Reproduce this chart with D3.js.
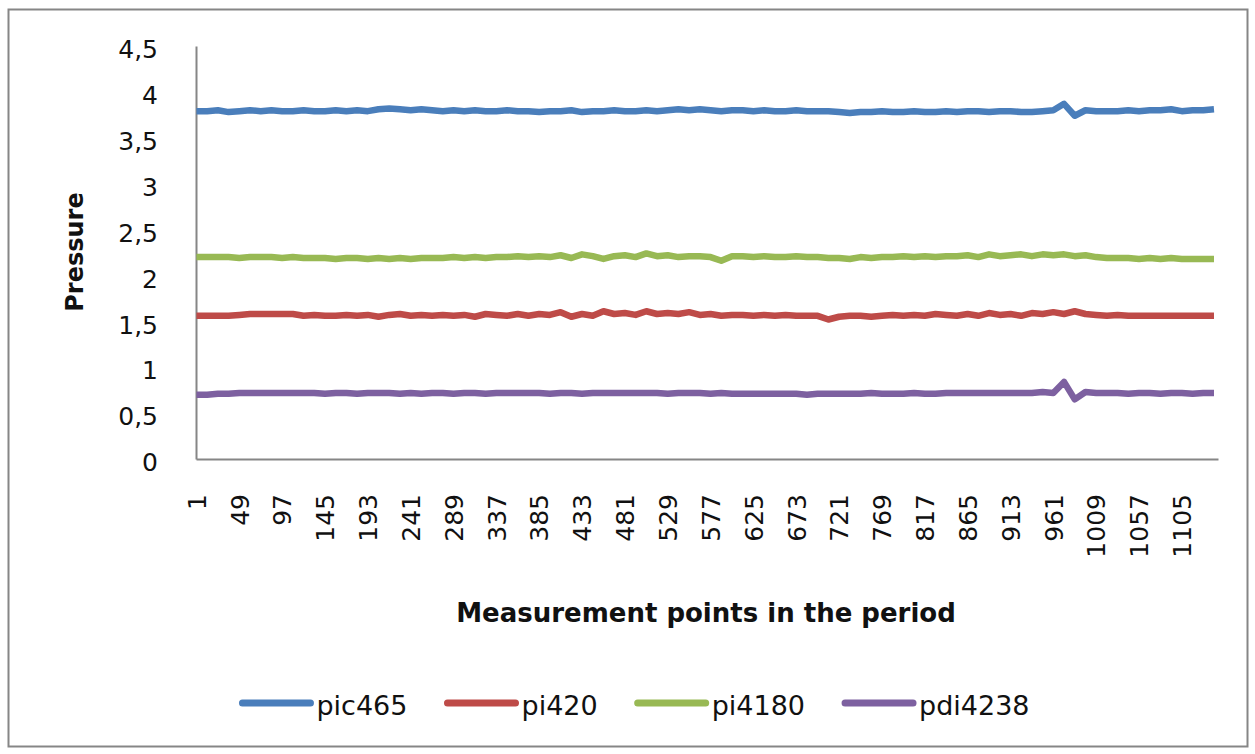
<!DOCTYPE html>
<html>
<head>
<meta charset="utf-8">
<script src="https://cdn.jsdelivr.net/npm/d3@7"></script>
<style>
    body { margin: 0; background: #fff; }
    text { font-family: "DejaVu Sans", sans-serif; fill: #111; }
</style>
</head>
<body>
<svg id="chart" width="1255" height="754"></svg>
<script>
// number of measurement points on the category axis, one sample kept every 12 points
var pointCount = 1145;
var sampleStep = 12;

var seriesNames = ['pic465', 'pi420', 'pi4180', 'pdi4238'];
var seriesColors = ['#4a7ebb', '#be4b48', '#98b954', '#7d60a0'];

var yTicks = [0, 0.5, 1, 1.5, 2, 2.5, 3, 3.5, 4, 4.5];
var xTickLabels = [1, 49, 97, 145, 193, 241, 289, 337, 385, 433, 481, 529, 577, 625,
    673, 721, 769, 817, 865, 913, 961, 1009, 1057, 1105];

var pic465 = [
    3.79, 3.79, 3.80, 3.78, 3.79, 3.80, 3.79, 3.80, 3.79, 3.79,
    3.80, 3.79, 3.79, 3.80, 3.79, 3.80, 3.79, 3.81, 3.82, 3.81,
    3.80, 3.81, 3.80, 3.79, 3.80, 3.79, 3.80, 3.79, 3.79, 3.80,
    3.79, 3.79, 3.78, 3.79, 3.79, 3.80, 3.78, 3.79, 3.79, 3.80,
    3.79, 3.79, 3.80, 3.79, 3.80, 3.81, 3.80, 3.81, 3.80, 3.79,
    3.80, 3.80, 3.79, 3.80, 3.79, 3.79, 3.80, 3.79, 3.79, 3.79,
    3.78, 3.77, 3.78, 3.78, 3.79, 3.78, 3.78, 3.79, 3.78, 3.78,
    3.79, 3.78, 3.79, 3.79, 3.78, 3.79, 3.79, 3.78, 3.78, 3.79,
    3.80, 3.87, 3.74, 3.80, 3.79, 3.79, 3.79, 3.80, 3.79, 3.80,
    3.80, 3.81, 3.79, 3.80, 3.80, 3.81
];
var pi420 = [
    1.56, 1.56, 1.56, 1.56, 1.57, 1.58, 1.58, 1.58, 1.58, 1.58,
    1.56, 1.57, 1.56, 1.56, 1.57, 1.56, 1.57, 1.55, 1.57, 1.58,
    1.56, 1.57, 1.56, 1.57, 1.56, 1.57, 1.55, 1.58, 1.57, 1.56,
    1.58, 1.56, 1.58, 1.57, 1.60, 1.55, 1.58, 1.56, 1.61, 1.58,
    1.59, 1.57, 1.61, 1.58, 1.59, 1.58, 1.60, 1.57, 1.58, 1.56,
    1.57, 1.57, 1.56, 1.57, 1.56, 1.57, 1.56, 1.56, 1.56, 1.52,
    1.55, 1.56, 1.56, 1.55, 1.56, 1.57, 1.56, 1.57, 1.56, 1.58,
    1.57, 1.56, 1.58, 1.56, 1.59, 1.57, 1.58, 1.56, 1.59, 1.58,
    1.60, 1.58, 1.61, 1.58, 1.57, 1.56, 1.57, 1.56, 1.56, 1.56,
    1.56, 1.56, 1.56, 1.56, 1.56, 1.56
];
var pi4180 = [
    2.20, 2.20, 2.20, 2.20, 2.19, 2.20, 2.20, 2.20, 2.19, 2.20,
    2.19, 2.19, 2.19, 2.18, 2.19, 2.19, 2.18, 2.19, 2.18, 2.19,
    2.18, 2.19, 2.19, 2.19, 2.20, 2.19, 2.20, 2.19, 2.20, 2.20,
    2.21, 2.20, 2.21, 2.20, 2.22, 2.19, 2.23, 2.21, 2.18, 2.21,
    2.22, 2.20, 2.24, 2.21, 2.22, 2.20, 2.21, 2.21, 2.20, 2.16,
    2.21, 2.21, 2.20, 2.21, 2.20, 2.20, 2.21, 2.20, 2.20, 2.19,
    2.19, 2.18, 2.20, 2.19, 2.20, 2.20, 2.21, 2.20, 2.21, 2.20,
    2.21, 2.21, 2.22, 2.20, 2.23, 2.21, 2.22, 2.23, 2.21, 2.23,
    2.22, 2.23, 2.21, 2.22, 2.20, 2.19, 2.19, 2.19, 2.18, 2.19,
    2.18, 2.19, 2.18, 2.18, 2.18, 2.18
];
var pdi4238 = [
    0.70, 0.70, 0.71, 0.71, 0.72, 0.72, 0.72, 0.72, 0.72, 0.72,
    0.72, 0.72, 0.71, 0.72, 0.72, 0.71, 0.72, 0.72, 0.72, 0.71,
    0.72, 0.71, 0.72, 0.72, 0.71, 0.72, 0.72, 0.71, 0.72, 0.72,
    0.72, 0.72, 0.72, 0.71, 0.72, 0.72, 0.71, 0.72, 0.72, 0.72,
    0.72, 0.72, 0.72, 0.72, 0.71, 0.72, 0.72, 0.72, 0.71, 0.72,
    0.71, 0.71, 0.71, 0.71, 0.71, 0.71, 0.71, 0.70, 0.71, 0.71,
    0.71, 0.71, 0.71, 0.72, 0.71, 0.71, 0.71, 0.72, 0.71, 0.71,
    0.72, 0.72, 0.72, 0.72, 0.72, 0.72, 0.72, 0.72, 0.72, 0.73,
    0.72, 0.84, 0.65, 0.73, 0.72, 0.72, 0.72, 0.71, 0.72, 0.72,
    0.71, 0.72, 0.72, 0.71, 0.72, 0.72
];

var seriesValues = [pic465, pi420, pi4180, pdi4238];

var svg = d3.select('#chart');
var axisColor = '#868686';

// chart frame
svg.append('rect')
    .attr('x', 8.5).attr('y', 9.5)
    .attr('width', 1239).attr('height', 737)
    .attr('fill', '#fff')
    .attr('stroke', axisColor)
    .attr('stroke-width', 2);

var plot = { left: 196, right: 1218, top: 46, bottom: 459 };

var x = d3.scaleLinear().domain([0.5, pointCount + 0.5]).range([plot.left, plot.right]);
var y = d3.scaleLinear().domain([0, 4.5]).range([plot.bottom, plot.top]);

// y axis
var yAxis = svg.append('g')
    .attr('transform', 'translate(' + plot.left + ',0)')
    .call(d3.axisLeft(y).tickValues(yTicks).tickSize(0).tickSizeOuter(0).tickPadding(38)
        .tickFormat(function(d) { return String(d).replace('.', ','); }));
yAxis.select('.domain').attr('stroke', axisColor).attr('stroke-width', 2);
yAxis.selectAll('text')
    .attr('dy', '0.47em')
    .style('font-size', '25px')
    .style('font-family', '"DejaVu Sans", sans-serif')
    .attr('fill', '#111');

// x axis
var xAxis = svg.append('g')
    .attr('transform', 'translate(0,' + plot.bottom + ')')
    .call(d3.axisBottom(x).tickValues(xTickLabels).tickSize(0).tickSizeOuter(0)
        .tickFormat(function(d) { return String(d); }));
xAxis.select('.domain').attr('stroke', axisColor).attr('stroke-width', 2);
xAxis.selectAll('text')
    .attr('transform', 'rotate(-90)')
    .attr('x', -35)
    .attr('y', 0)
    .attr('dy', '0.35em')
    .style('text-anchor', 'end')
    .style('font-size', '25px')
    .style('font-family', '"DejaVu Sans", sans-serif')
    .attr('fill', '#111');

// series lines
var line = d3.line()
    .x(function(d, i) { return x(1 + i * sampleStep); })
    .y(function(d) { return y(d); });

svg.append('g').selectAll('path')
    .data(seriesValues)
    .enter().append('path')
    .attr('d', line)
    .attr('fill', 'none')
    .attr('stroke', function(d, i) { return seriesColors[i]; })
    .attr('stroke-width', 6.5)
    .attr('stroke-linejoin', 'round');

// axis titles
svg.append('text')
    .attr('transform', 'translate(83,252) rotate(-90)')
    .attr('text-anchor', 'middle')
    .style('font-size', '24px')
    .style('font-weight', 'bold')
    .text('Pressure');

svg.append('text')
    .attr('x', 706).attr('y', 622)
    .attr('text-anchor', 'middle')
    .style('font-size', '26px')
    .style('font-weight', 'bold')
    .text('Measurement points in the period');

// legend
var legend = svg.append('g');
var lineLen = 68, gapText = 6, gapItem = 40, cx = 0;
var items = legend.selectAll('g')
    .data(seriesNames)
    .enter().append('g');
items.append('line')
    .attr('x1', 0).attr('x2', lineLen)
    .attr('y1', 703).attr('y2', 703)
    .attr('stroke', function(d, i) { return seriesColors[i]; })
    .attr('stroke-width', 7)
    .attr('stroke-linecap', 'round');
items.append('text')
    .attr('x', lineLen + gapText).attr('y', 715)
    .style('font-size', '27px')
    .text(function(d) { return d; });
items.each(function() {
    var w = d3.select(this).select('text').node().getComputedTextLength();
    d3.select(this).attr('transform', 'translate(' + cx + ',0)');
    cx += lineLen + gapText + w + gapItem;
});
var legendWidth = cx - gapItem;
legend.attr('transform', 'translate(' + (636 - legendWidth / 2) + ',0)');
</script>
</body>
</html>
